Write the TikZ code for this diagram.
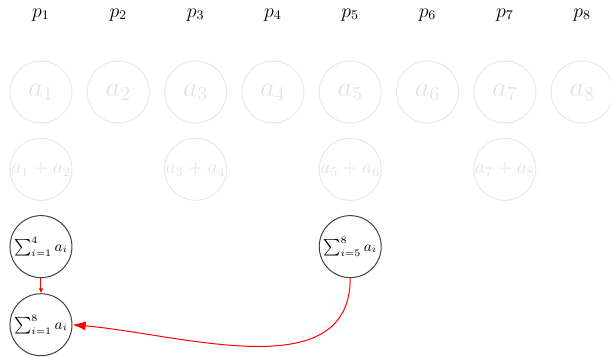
\documentclass[tikz,border=0pt]{standalone}
\usetikzlibrary{arrows.meta}
\begin{document}
\begin{tikzpicture}[x=1.646cm, y=1.646cm, semithick,
    leaf/.style={circle, draw=gray!18, text=gray!22, minimum size=1.32cm, inner sep=0pt, font=\LARGE},
    pair/.style={leaf, font=\large},
    sumnode/.style={circle, draw=black!75, minimum size=1.32cm, inner sep=0pt, font=\small},
    link/.style={red, -{Latex[length=3pt, width=3pt]}},
    biglink/.style={red, -{Latex[length=8pt, width=5.5pt]}}]
    \useasboundingbox (-0.530, 1.19) rectangle (7.373, -3.43);

    % 1. 处理器标号
    \node[font=\large] (p1) at (0, 1) {$p_1$};
    \node[font=\large] (p2) at (1, 1) {$p_2$};
    \node[font=\large] (p3) at (2, 1) {$p_3$};
    \node[font=\large] (p4) at (3, 1) {$p_4$};
    \node[font=\large] (p5) at (4, 1) {$p_5$};
    \node[font=\large] (p6) at (5, 1) {$p_6$};
    \node[font=\large] (p7) at (6, 1) {$p_7$};
    \node[font=\large] (p8) at (7, 1) {$p_8$};

    % 2. 初始数据 (浅色)
    \node[leaf] (a1) at (0, 0) {$a_1$};
    \node[leaf] (a2) at (1, 0) {$a_2$};
    \node[leaf] (a3) at (2, 0) {$a_3$};
    \node[leaf] (a4) at (3, 0) {$a_4$};
    \node[leaf] (a5) at (4, 0) {$a_5$};
    \node[leaf] (a6) at (5, 0) {$a_6$};
    \node[leaf] (a7) at (6, 0) {$a_7$};
    \node[leaf] (a8) at (7, 0) {$a_8$};

    % 3. 第一轮两两相加
    \node[pair] (s12) at (0, -1) {$a_1+a_2$};
    \node[pair] (s34) at (2, -1) {$a_3+a_4$};
    \node[pair] (s56) at (4, -1) {$a_5+a_6$};
    \node[pair] (s78) at (6, -1) {$a_7+a_8$};

    % 4. 部分和与总和
    \node[sumnode] (s14) at (0, -2) {$\sum_{i=1}^4 a_i$};
    \node[sumnode] (s58) at (4, -2) {$\sum_{i=5}^8 a_i$};
    \node[sumnode] (s18) at (0, -3.01) {$\sum_{i=1}^8 a_i$};

    % 5. 归约箭头
    \draw[link] (s14) -- (s18);
    \draw[biglink] (s58.south) to[out=-90, in=-5] (s18.east);
\end{tikzpicture}
\end{document}
